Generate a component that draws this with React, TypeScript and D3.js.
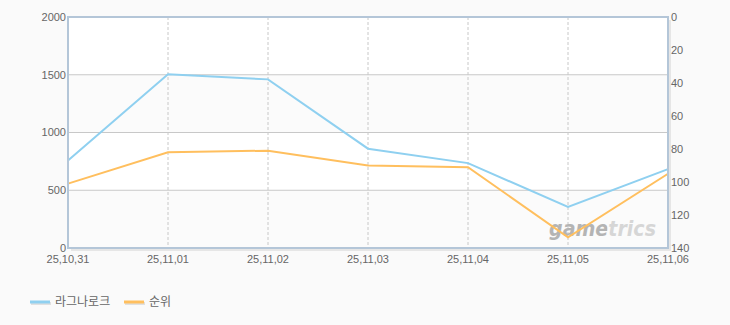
import React from "react";
import * as d3 from "d3";

const categories = ["25,10,31", "25,11,01", "25,11,02", "25,11,03", "25,11,04", "25,11,05", "25,11,06"];
const playersValues = [758, 1505, 1460, 860, 735, 355, 683];
const rankValues = [101, 82, 81, 90, 91, 133.5, 95];
const leftTicks = [0, 500, 1000, 1500, 2000];
const rightTicks = [0, 20, 40, 60, 80, 100, 120, 140];
const seriesNames = ["라그나로크", "순위"];
const seriesColors = ["#8fd0f0", "#ffbf5e"];

const W = 730;
const H = 325;
const L = 68, R = 668, T = 17, B = 248;

export default function App() {
  const x = d3.scalePoint<string>().domain(categories).range([L, R]);
  const yL = d3.scaleLinear().domain([0, 2000]).range([B, T]);
  const yR = d3.scaleLinear().domain([0, 140]).range([T, B]);
  const font = "'Liberation Sans', 'Noto Sans CJK KR', sans-serif";

  const lineL = d3.line<number>().x((_, i) => x(categories[i])!).y((d) => yL(d));
  const lineR = d3.line<number>().x((_, i) => x(categories[i])!).y((d) => yR(d));

  const bands = d3.pairs(leftTicks);
  const wmFont = "'DejaVu Sans', sans-serif";

  return (
    <svg width={W} height={H} style={{ position: "absolute", left: 0, top: 0, display: "block" }} fontFamily={font}>
      <defs>
        <linearGradient id="wm" gradientUnits="userSpaceOnUse" x1={549} x2={658} y1={0} y2={0}>
          <stop offset="0.53" stopColor="#b4b4b4" />
          <stop offset="0.53" stopColor="#d6d6d6" />
        </linearGradient>
      </defs>
      <rect x={0} y={0} width={W} height={H} fill="#fafafa" />
      {/* shadow */}
      <rect x={L + 3} y={T + 3} width={R - L} height={B - T} fill="#e6e6e6" />
      <rect x={L} y={T} width={R - L} height={B - T} fill="#ffffff" />
      {bands.map(([a, b], i) =>
        i % 2 === 0 ? (
          <rect key={"b" + i} x={L} y={yL(b)} width={R - L} height={yL(a) - yL(b)} fill="#fbfbfb" />
        ) : null
      )}
      {leftTicks.slice(1, -1).map((t) => (
        <line key={"g" + t} x1={L} x2={R} y1={yL(t)} y2={yL(t)} stroke="#c8c8c8" strokeWidth={1} />
      ))}
      {categories.slice(1, -1).map((c) => (
        <line key={"v" + c} x1={x(c)} x2={x(c)} y1={T} y2={B} stroke="#c8c8c8" strokeWidth={1} strokeDasharray="3,2" />
      ))}
      {/* watermark */}
      <text x={549} y={236} fontSize={22} fontWeight="bold" fontStyle="italic" fontFamily={wmFont} fill="url(#wm)" textLength={107} lengthAdjust="spacingAndGlyphs">
        gametrics
      </text>
      <path d={lineL(playersValues)!} fill="none" stroke={seriesColors[0]} strokeWidth={2} />
      <path d={lineR(rankValues)!} fill="none" stroke={seriesColors[1]} strokeWidth={2} />
      {/* border */}
      <rect x={L} y={T} width={R - L} height={B - T} fill="none" stroke="#b4c6d8" strokeWidth={2} />
      {leftTicks.map((t) => (
        <text key={"l" + t} x={66} y={yL(t)} dy="0.35em" textAnchor="end" fontSize={11} fill="#666">
          {t}
        </text>
      ))}
      {rightTicks.map((t) => (
        <text key={"r" + t} x={671} y={yR(t)} dy="0.35em" textAnchor="start" fontSize={11} fill="#666">
          {t}
        </text>
      ))}
      {categories.map((c) => (
        <text key={"x" + c} x={x(c)} y={259} dy="0.35em" textAnchor="middle" fontSize={11} fill="#666">
          {c}
        </text>
      ))}
      {/* legend */}
      {seriesNames.map((n, i) => {
        const lx = i === 0 ? 30 : 124;
        return (
          <g key={"lg" + i}>
            <rect x={lx + 1} y={302} width={20} height={3} fill="#e0e0e0" />
            <rect x={lx} y={300.5} width={20} height={3} fill={seriesColors[i]} />
            <text x={lx + 25} y={302} dy="0.35em" fontSize={12} fill="#666">
              {n}
            </text>
          </g>
        );
      })}
    </svg>
  );
}
